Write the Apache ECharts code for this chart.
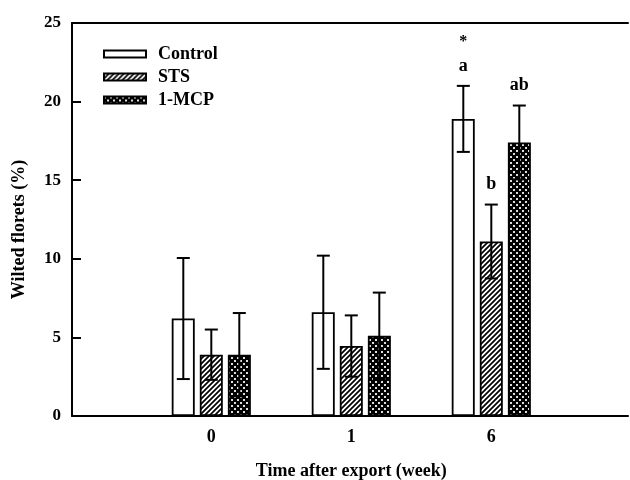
<!DOCTYPE html>
<html>
<head>
<meta charset="utf-8">
<script src="https://cdn.jsdelivr.net/npm/echarts@6/dist/echarts.min.js"></script>
<style>
  html, body { margin: 0; padding: 0; background: #fff; }
  #main { width: 630px; height: 480px; }
</style>
</head>
<body>
<div id="main"></div>
<script>
  // data
  var weeks = ['0', '1', '6'];
  var seriesNames = ['Control', 'STS', '1-MCP'];
  var controlMean = [6.2, 6.6, 18.9];
  var controlErr = [3.85, 3.6, 2.1];
  var stsMean = [3.9, 4.45, 11.1];
  var stsErr = [1.6, 1.95, 2.35];
  var mcpMean = [3.9, 5.1, 17.4];
  var mcpErr = [2.65, 2.75, 2.35];
  var controlMark = ['', '', 'a'];
  var stsMark = ['', '', 'b'];
  var mcpMark = ['', '', 'ab'];
  var starMark = ['', '', '*'];

  var FONT = '"Liberation Serif", "Times New Roman", serif';

  function hatch() {
    var c = document.createElement('canvas')
    c.width = 5; c.height = 5
    var g = c.getContext('2d')
    g.fillStyle = '#fff'
    g.fillRect(0, 0, 5, 5)
    g.strokeStyle = '#000'
    g.lineWidth = 1.7
    g.beginPath()
    g.moveTo(-2, 7); g.lineTo(7, -2)
    g.moveTo(-2, 2); g.lineTo(2, -2)
    g.moveTo(3, 7); g.lineTo(7, 3)
    g.stroke()
    return c
  }

  function dots() {
    var c = document.createElement('canvas')
    c.width = 6; c.height = 6
    var g = c.getContext('2d')
    g.fillStyle = '#000'
    g.fillRect(0, 0, 6, 6)
    g.fillStyle = '#ddd'
    g.fillRect(0, 0, 2, 2)
    g.fillRect(3, 3, 2, 2)
    return c
  }

  var fills = ['#fff', { image: hatch(), repeat: 'repeat' }, { image: dots(), repeat: 'repeat' }];
  var means = [controlMean, stsMean, mcpMean];
  var errs = [controlErr, stsErr, mcpErr];
  var marks = [controlMark, stsMark, mcpMark];
  var offsets = [-28, 0, 28];

  function errData(k) {
    return weeks.map(function (w, i) {
      return [i, means[k][i], errs[k][i], marks[k][i], k === 0 ? starMark[i] : ''];
    });
  }

  function renderErr(k) {
    return function (params, api) {
      var x = api.coord([api.value(0), 0])[0] + offsets[k];
      var m = api.value(1), e = api.value(2);
      var top = api.coord([api.value(0), m + e])[1];
      var bot = api.coord([api.value(0), m - e])[1];
      var ls = { stroke: '#000', lineWidth: 2 };
      var kids = [
        { type: 'line', shape: { x1: x, y1: top, x2: x, y2: bot }, style: ls },
        { type: 'line', shape: { x1: x - 6.5, y1: top, x2: x + 6.5, y2: top }, style: ls },
        { type: 'line', shape: { x1: x - 6.5, y1: bot, x2: x + 6.5, y2: bot }, style: ls }
      ];
      var mark = api.value(3), star = api.value(4);
      if (mark) kids.push({ type: 'text', style: { text: mark, x: x, y: top - 20, align: 'center', verticalAlign: 'middle', font: 'bold 18px ' + FONT, fill: '#000' } });
      if (star) kids.push({ type: 'text', style: { text: star, x: x, y: top - 44, align: 'center', verticalAlign: 'middle', font: 'bold 16px ' + FONT, fill: '#000' } });
      return { type: 'group', children: kids };
    };
  }

  var series = [];
  seriesNames.forEach(function (n, k) {
    series.push({
      name: n,
      type: 'bar',
      xAxisIndex: 2,
      yAxisIndex: 1,
      data: means[k],
      barWidth: 23,
      barGap: '22%',
      itemStyle: { color: fills[k], borderColor: '#000', borderWidth: 1.8 },
      z: 2
    });
  });
  seriesNames.forEach(function (n, k) {
    series.push({
      type: 'custom',
      xAxisIndex: 2,
      yAxisIndex: 1,
      data: errData(k),
      renderItem: renderErr(k),
      z: 5
    });
  });

  var chart = echarts.init(document.getElementById('main'));
  chart.setOption({
    animation: false,
    backgroundColor: '#fff',
    textStyle: { fontFamily: FONT },
    legend: {
      data: seriesNames,
      orient: 'vertical',
      left: 98,
      top: 40,
      icon: 'rect',
      itemWidth: 42,
      itemHeight: 7,
      itemGap: 5,
      textStyle: { fontFamily: FONT, fontWeight: 'bold', fontSize: 18, color: '#000', lineHeight: 18, padding: [0, 0, 0, 7] }
    },
    grid: [
      { left: 72, right: 2, top: 23, bottom: 64, outerBoundsMode: 'none', containLabel: false },
      { left: 141.3, width: 420, top: 23, bottom: 64, outerBoundsMode: 'none', containLabel: false }
    ],
    xAxis: [
      { type: 'value', gridIndex: 0, min: 0, max: 1, position: 'bottom',
        axisLine: { show: true, lineStyle: { color: '#000', width: 2 } },
        axisTick: { show: false }, axisLabel: { show: false }, splitLine: { show: false } },
      { type: 'value', gridIndex: 0, min: 0, max: 1, position: 'top',
        axisLine: { show: true, lineStyle: { color: '#000', width: 2 } },
        axisTick: { show: false }, axisLabel: { show: false }, splitLine: { show: false } },
      { type: 'category', gridIndex: 1, data: weeks,
        axisLine: { show: false }, axisTick: { show: false }, splitLine: { show: false },
        axisLabel: { color: '#000', fontFamily: FONT, fontWeight: 'bold', fontSize: 18, margin: 12 },
        name: 'Time after export (week)', nameLocation: 'middle', nameGap: 46,
        nameTextStyle: { color: '#000', fontFamily: FONT, fontWeight: 'bold', fontSize: 18 } }
    ],
    yAxis: [
      { type: 'value', gridIndex: 0, min: 0, max: 25, interval: 5,
        axisLine: { show: true, lineStyle: { color: '#000', width: 2 } },
        axisTick: { show: true, inside: true, length: 9, lineStyle: { color: '#000', width: 2 } },
        axisLabel: { color: '#000', fontFamily: FONT, fontWeight: 'bold', fontSize: 17, margin: 11 },
        splitLine: { show: false },
        name: 'Wilted florets (%)', nameLocation: 'middle', nameGap: 44,
        nameTextStyle: { color: '#000', fontFamily: FONT, fontWeight: 'bold', fontSize: 18, padding: [0, 20, 0, 0] } },
      { type: 'value', gridIndex: 1, min: 0, max: 25, interval: 5, show: false }
    ],
    series: series
  });
</script>
</body>
</html>
